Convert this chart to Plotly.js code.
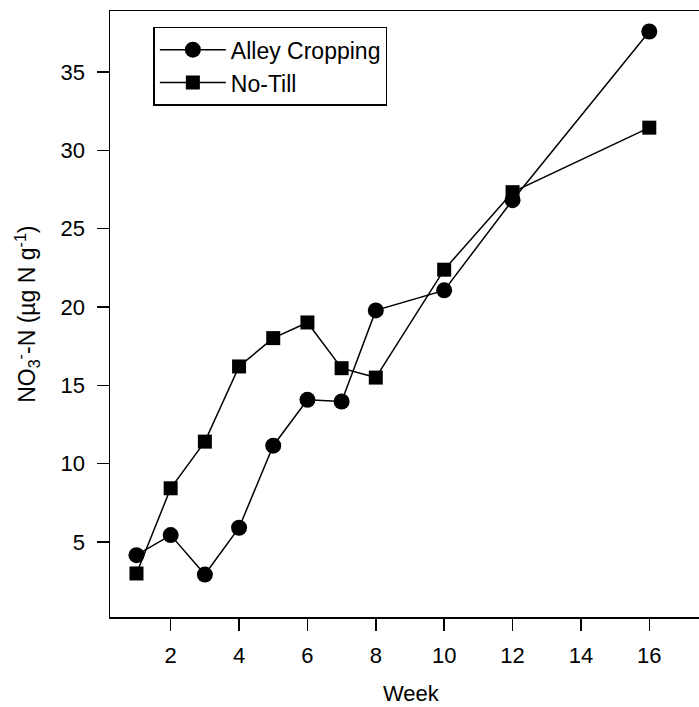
<!DOCTYPE html>
<html>
<head>
<meta charset="utf-8">
<script src="https://cdn.plot.ly/plotly-3.0.1.min.js"></script>
<style>html,body{margin:0;padding:0;overflow:hidden;background:#fff;}</style>
</head>
<body>
<div id="chart"></div>
<script>
// Data
const weeks = [1, 2, 3, 4, 5, 6, 7, 8, 10, 12, 16];
const alleyCropping = [4.15, 5.43, 2.91, 5.9, 11.14, 14.07, 13.96, 19.78, 21.06, 26.82, 37.59];
const noTill = [2.98, 8.42, 11.4, 16.2, 18.01, 19.01, 16.09, 15.49, 22.38, 27.33, 31.45];
const seriesNames = ["Alley Cropping", "No-Till"];
const xTicks = [2, 4, 6, 8, 10, 12, 14, 16];
const yTicks = [5, 10, 15, 20, 25, 30, 35];

const font = "Liberation Sans, Arial, Helvetica, sans-serif";

const traces = [
  {
    x: weeks, y: alleyCropping, name: seriesNames[0], type: "scatter", mode: "lines+markers",
    line: {color: "#000", width: 1.5},
    marker: {symbol: "circle", size: 16, color: "#000"}
  },
  {
    x: weeks, y: noTill, name: seriesNames[1], type: "scatter", mode: "lines+markers",
    line: {color: "#000", width: 1.5},
    marker: {symbol: "square", size: 14, color: "#000"}
  }
];

const layout = {
  width: 712, height: 707,
  margin: {l: 110, r: 8, t: 11, b: 90},
  paper_bgcolor: "#fff", plot_bgcolor: "#fff",
  font: {family: font, size: 22, color: "#000"},
  showlegend: true,
  legend: {
    x: 0.073, y: 0.974, xanchor: "left", yanchor: "top",
    bgcolor: "#fff", bordercolor: "#000", borderwidth: 1.5,
    font: {family: font, size: 23, color: "#000"},
    itemwidth: 66, tracegroupgap: 0
  },
  xaxis: {
    range: [0.225, 17.6],
    tickvals: xTicks, ticktext: xTicks.map(String),
    ticks: "outside", ticklen: 12, tickwidth: 1.5, tickcolor: "#000",
    ticklabelstandoff: 6,
    showline: true, linecolor: "#000", linewidth: 1.5, mirror: true,
    showgrid: false, zeroline: false,
    tickfont: {family: font, size: 22, color: "#000"}
  },
  yaxis: {
    range: [0.2, 38.9],
    tickvals: yTicks, ticktext: yTicks.map(String),
    ticks: "outside", ticklen: 12, tickwidth: 1.5, tickcolor: "#000",
    ticklabelstandoff: 7,
    showline: true, linecolor: "#000", linewidth: 1.5, mirror: true,
    showgrid: false, zeroline: false,
    tickfont: {family: font, size: 22, color: "#000"}
  },
  annotations: [
    {
      text: "Week", xref: "x", yref: "paper", x: 9.03, y: -0.127,
      xanchor: "center", yanchor: "middle", showarrow: false,
      font: {family: font, size: 22, color: "#000"}
    },
    {
      text: "NO<sub>3</sub><sup>-</sup>-N (µg N g<sup>-1</sup>)", xref: "paper", yref: "paper",
      x: -0.14, y: 0.5, xanchor: "center", yanchor: "middle", textangle: -90, showarrow: false,
      font: {family: font, size: 23, color: "#000"}
    }
  ]
};

Plotly.newPlot("chart", traces, layout, {displayModeBar: false, staticPlot: true});
</script>
</body>
</html>
